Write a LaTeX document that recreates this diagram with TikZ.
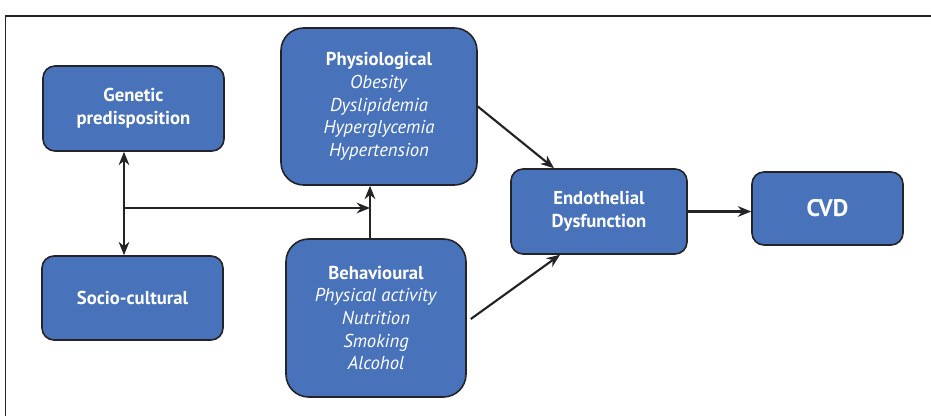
\documentclass[tikz,border=0pt]{standalone}
\usepackage{fontspec}
\setmainfont{PT Sans}
\usepackage{xcolor}
\usepackage{tikz}
\usetikzlibrary{calc}
\usetikzlibrary{arrows.meta}
\definecolor{box-blue}{RGB}{72, 114, 185}
\definecolor{box-edge}{RGB}{35, 35, 40}

\begin{document}
\begin{tikzpicture}[x=0.75pt, y=-0.75pt,
    factor/.style={draw=box-edge, line width=1.2pt, fill=box-blue, text=white,
      rounded corners=9pt, align=center, inner sep=0pt,
      font=\fontsize{14}{17}\selectfont},
    arr/.style={line width=1.6pt, box-edge, -{Stealth[length=10pt, width=8pt]}}]
          \useasboundingbox (0, 0) rectangle (931, 416);
          \draw[line width=1pt, box-edge] (5.5, 420) -- (5.5, 16) -- (935, 16);

          \node[factor, minimum width=181*0.75pt, minimum height=85*0.75pt] (gen) at (133.5, 108.5)
            {\textbf{Genetic}\\\textbf{predisposition}};
          \node[factor, minimum width=181*0.75pt, minimum height=84*0.75pt] (soc) at (132.5, 298)
            {\textbf{Socio-cultural}};
          \node[factor, rounded corners=17pt, minimum width=196*0.75pt, minimum height=157*0.75pt] (phys) at (379, 106.5)
            {\textbf{Physiological}\\\textit{Obesity}\\\textit{Dyslipidemia}\\\textit{Hyperglycemia}\\\textit{Hypertension}};
          \node[factor, rounded corners=17pt, minimum width=180*0.75pt, minimum height=158*0.75pt] (beh) at (376, 318)
            {\textbf{Behavioural}\\\textit{Physical activity}\\\textit{Nutrition}\\\textit{Smoking}\\\textit{Alcohol}};
          \node[factor, minimum width=176*0.75pt, minimum height=85*0.75pt] (endo) at (599, 211.5)
            {\textbf{Endothelial}\\\textbf{Dysfunction}};
          \node[factor, minimum width=151*0.75pt, minimum height=73*0.75pt, font=\fontsize{18}{21}\selectfont] (cvd) at (827.5, 208.5)
            {\textbf{CVD}};

          \coordinate (split) at (124, 208);
          \coordinate (meet) at (370, 208);

          \draw[arr, {Stealth[length=10pt, width=8pt]}-{Stealth[length=10pt, width=8pt]}]
            ($(gen.south)+(-9.5, 0)$) -- ($(soc.north)+(-8.5, 0)$);
          \draw[arr] (split) -- (meet);
          \draw[arr] ($(beh.north)+(-6, 0)$) -- ($(phys.south)+(-9, 0)$);

          \draw[arr] (phys.east) -- ($(endo.north)+(-45, 0)$);
          \draw[arr] ($(beh.east)+(4, 1)$) -- ($(endo.south)+(-39, 0)$);
          \draw[arr] (endo.east) -- ($(cvd.west)+(0, 3)$);

        \end{tikzpicture}
\end{document}
